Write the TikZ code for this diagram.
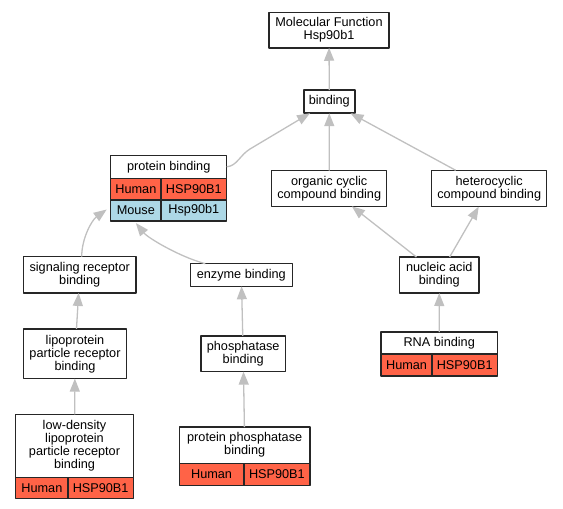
\documentclass[tikz,border=0pt]{standalone}
\usepackage{fontspec}
\setmainfont{Liberation Sans}
\usetikzlibrary{arrows.meta,calc}
\definecolor{tomato}{HTML}{FF6347}
\definecolor{lightblue}{HTML}{ADD8E6}
\definecolor{edgegray}{HTML}{C0C0C0}
\begin{document}
\begin{tikzpicture}[x=1pt,y=-1pt,line join=round,
	term/.style={draw=black!85,line width=1.5pt,fill=white,inner sep=0pt,outer sep=0pt,align=center,font=\fontsize{12.7}{13}\selectfont},
	human/.style={term,fill=tomato},
	mouse/.style={term,fill=lightblue},
	isa/.style={draw=edgegray,line width=1.3pt,-{Triangle[length=13pt,width=10pt]}}]
	\useasboundingbox (0,0) rectangle (563,509);
	% terms
	\node[term,minimum width=120pt,minimum height=35.5pt] (mf) at (329,30) {Molecular Function\\Hsp90b1};
	\node[term,minimum width=51pt,minimum height=23pt] (bind) at (329.3,101.7) {binding};
	\node[term,minimum width=116pt,minimum height=23pt] (pb) at (168.7,166.8) {protein binding};
	\node[human,anchor=north west,minimum width=50.3pt,minimum height=21.7pt] (pbH) at (pb.south west) {Human};
	\node[human,anchor=north east,minimum width=65.7pt,minimum height=21.7pt] (pbHg) at (pb.south east) {HSP90B1};
	\node[mouse,anchor=north west,minimum width=50.3pt,minimum height=21pt] (pbM) at (pbH.south west) {Mouse};
	\node[mouse,anchor=north east,minimum width=65.7pt,minimum height=21pt] (pbMg) at (pbHg.south east) {Hsp90b1};
	\node[term,minimum width=115pt,minimum height=35.6pt] (org) at (329.2,188.5) {organic cyclic\\compound binding};
	\node[term,minimum width=115pt,minimum height=36.4pt] (het) at (489.2,188.5) {heterocyclic\\compound binding};
	\node[term,minimum width=79.3pt,minimum height=36pt] (nuc) at (439.3,275) {nucleic acid\\binding};
	\node[term,minimum width=116.3pt,minimum height=22pt] (rna) at (439.2,343) {RNA binding};
	\node[human,anchor=north west,minimum width=51pt,minimum height=22pt] (rnaH) at (rna.south west) {Human};
	\node[human,anchor=north east,minimum width=65.3pt,minimum height=22pt] (rnaHg) at (rna.south east) {HSP90B1};
	\node[term,minimum width=112.7pt,minimum height=36.3pt] (sig) at (79.7,274.8) {signaling receptor\\binding};
	\node[term,minimum width=102pt,minimum height=22.6pt] (enz) at (241.3,275) {enzyme binding};
	\node[term,minimum width=103.4pt,minimum height=49.7pt] (lip) at (75,353.8) {lipoprotein\\particle receptor\\binding};
	\node[term,minimum width=84.3pt,minimum height=35.7pt] (phos) at (243.2,353.8) {phosphatase\\binding};
	\node[term,minimum width=117.6pt,minimum height=63pt] (ldl) at (74.5,445.8) {low-density\\lipoprotein\\particle receptor\\binding};
	\node[human,anchor=north west,minimum width=52.3pt,minimum height=21pt] (ldlH) at (ldl.south west) {Human};
	\node[human,anchor=north east,minimum width=65.3pt,minimum height=21pt] (ldlHg) at (ldl.south east) {HSP90B1};
	\node[term,minimum width=130.7pt,minimum height=36.3pt] (pp) at (244.7,445.2) {protein phosphatase\\binding};
	\node[human,anchor=north west,minimum width=64.4pt,minimum height=22pt] (ppH) at (pp.south west) {Human};
	\node[human,anchor=north east,minimum width=66.3pt,minimum height=22pt] (ppHg) at (pp.south east) {HSP90B1};
	% is_a edges
	\draw[isa] (bind)--(mf);
	\draw[isa] (org)--(bind);
	\draw[isa] (het)--(bind);
	\draw[isa] (nuc)--(org);
	\draw[isa] (nuc)--(het);
	\draw[isa] (rna)--(nuc);
	\draw[isa] (lip)--(sig);
	\draw[isa] (ldl)--(lip);
	\draw[isa] (phos)--(enz);
	\draw[isa] (pp)--(phos);
	\draw[isa] (pb.east) .. controls (237,166) and (240,155) .. (250,149)--(bind);
	\draw[isa] ($(sig.north)+(2,0)$) .. controls (81.7,238) and (92,220) .. ($(pbM.west)+(-4,-1)$);
	\draw[isa] ($(enz.north)+(-36,0)$) .. controls (180,257) and (148,238) .. ($(pbM.south)+(0,2)$);
\end{tikzpicture}
\end{document}
